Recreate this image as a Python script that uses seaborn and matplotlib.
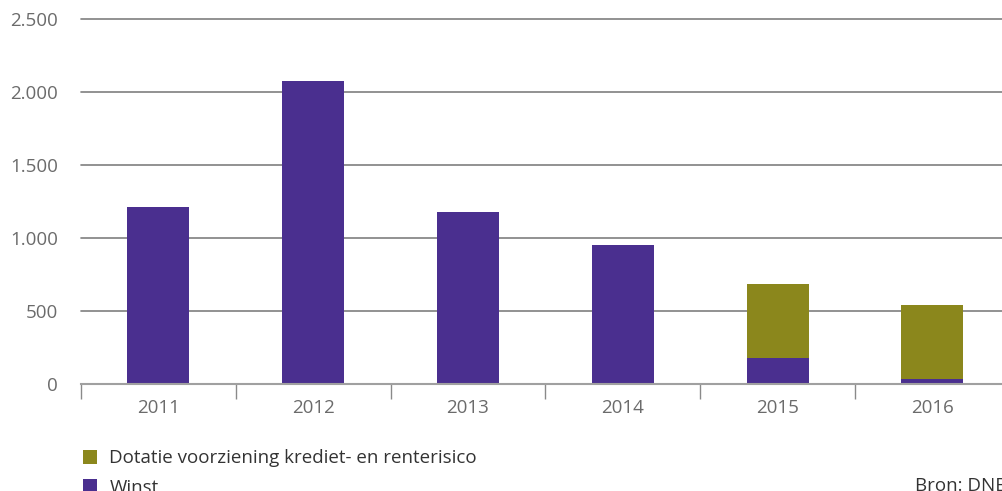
import matplotlib
matplotlib.use("Agg")
import matplotlib.pyplot as plt
from matplotlib.patches import Patch
import seaborn as sns
import pandas as pd
import numpy as np

years = ["2011", "2012", "2013", "2014", "2015", "2016"]
winst = [1212, 2075, 1178, 952, 178, 34]
dotatie = [0, 0, 0, 0, 507, 507]
yticks = [0, 500, 1000, 1500, 2000, 2500]
ytick_labels = ["0", "500", "1.000", "1.500", "2.000", "2.500"]
label_dotatie = "Dotatie voorziening krediet- en renterisico"
label_winst = "Winst"
source = "Bron: DNB"

purple = "#4a2f8f"
olive = "#8b871c"
FS = 13.5

sns.set_theme(style="white")
plt.rcParams["font.family"] = ["Open Sans", "DejaVu Sans"]

df = pd.DataFrame({"jaar": years, "winst": winst, "dotatie": dotatie})

fig = plt.figure(figsize=(10.02, 4.91), dpi=100)
ax = fig.add_axes([81 / 1002, (491 - 384) / 491, 921 / 1002, 365 / 491])

sns.barplot(data=df, x="jaar", y="winst", color=purple, width=0.4,
            saturation=1, ax=ax, zorder=3, linewidth=0, edgecolor="none")
sns.barplot(data=df, x="jaar", y="dotatie", color=olive, width=0.4,
            saturation=1, ax=ax, bottom=df["winst"], zorder=3, linewidth=0,
            edgecolor="none")

ax.set_xlabel("")
ax.set_ylabel("")
ax.set_yticks(yticks)
ax.set_yticklabels(ytick_labels)
ax.set_xticks(np.arange(-0.5, 6.0, 1.0), minor=True)
ax.set_xlim(-0.5, 5.45)
ax.set_ylim(0, 2500)
for y in yticks[1:]:
    ax.axhline(y, color="#7f7f7f", lw=1.2, zorder=1, clip_on=False)

for s in ["top", "right", "left"]:
    ax.spines[s].set_visible(False)
ax.spines["bottom"].set_color("#a0a0a0")
ax.spines["bottom"].set_linewidth(1.5)
ax.spines["bottom"].set_zorder(4)

ax.tick_params(axis="x", which="minor", length=11, width=1, color="#8a8a8a",
               bottom=True)
ax.tick_params(axis="x", which="major", length=0, pad=11, labelsize=FS,
               labelcolor="#6b6b6b")
ax.tick_params(axis="y", length=0, pad=16.5, labelsize=FS, labelcolor="#6b6b6b")

handles = [Patch(facecolor=olive, edgecolor="none", label=label_dotatie),
           Patch(facecolor=purple, edgecolor="none", label=label_winst)]
fig.legend(handles=handles, loc="upper left",
           bbox_to_anchor=(0.073, 1 - 440 / 491), frameon=False,
           fontsize=FS, handlelength=0.78, handleheight=0.78,
           handletextpad=0.65, labelspacing=0.62, borderpad=0,
           labelcolor="#333333")

fig.text(915 / 1002, 1 - 486 / 491, source, fontsize=FS, color="#333333",
         ha="left", va="center")

fig.savefig("out.png", dpi=100)
